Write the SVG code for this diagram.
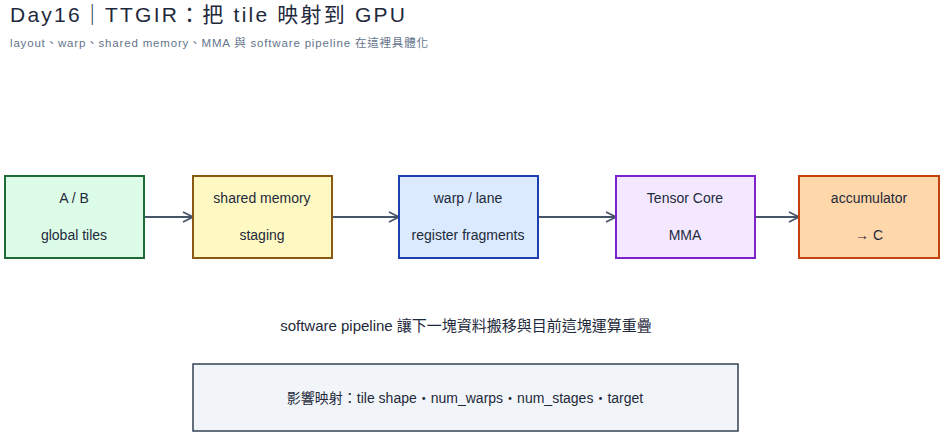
<svg xmlns="http://www.w3.org/2000/svg" width="942" height="434" viewBox="0 0 942 434">
<style>
text{font-family:"Liberation Sans","Noto Sans CJK TC",sans-serif;fill:#1e293b}
.n{font-size:14px;text-anchor:middle}
.b{stroke-width:2}
.c{stroke:#475569;stroke-width:1.8;fill:none}
</style>
<defs><marker id="a" markerWidth="12" markerHeight="12" refX="11" refY="6" orient="auto" markerUnits="userSpaceOnUse"><path d="M1,1 L11,6 L1,11" fill="none" stroke="#475569" stroke-width="1.8"/></marker></defs>
<rect width="942" height="434" fill="#fff"/>
<text x="10" y="22" font-size="21" textLength="395" lengthAdjust="spacing">Day16｜TTGIR：把 tile 映射到 GPU</text>
<text x="10" y="47" font-size="11.5" textLength="418" lengthAdjust="spacing" style="fill:#64748b">layout、warp、shared memory、MMA 與 software pipeline 在這裡具體化</text>
<g id="connectors">
<line class="c" x1="144" y1="217" x2="193" y2="217" marker-end="url(#a)"/>
<line class="c" x1="332" y1="217" x2="399" y2="217" marker-end="url(#a)"/>
<line class="c" x1="538" y1="217" x2="616" y2="217" marker-end="url(#a)"/>
<line class="c" x1="755" y1="217" x2="799" y2="217" marker-end="url(#a)"/>
</g>
<g id="n1"><rect class="b" x="5" y="176" width="139" height="82" fill="#dcfce7" stroke="#1e6b38"/><text class="n" x="74" y="203">A / B</text><text class="n" x="74" y="240">global tiles</text></g>
<g id="n2"><rect class="b" x="193" y="176" width="139" height="82" fill="#fef9c3" stroke="#8a5a14"/><text class="n" x="262" y="203">shared memory</text><text class="n" x="262" y="240">staging</text></g>
<g id="n3"><rect class="b" x="399" y="176" width="139" height="82" fill="#dbeafe" stroke="#1e40af"/><text class="n" x="468" y="203">warp / lane</text><text class="n" x="468" y="240">register fragments</text></g>
<g id="n4"><rect class="b" x="616" y="176" width="139" height="82" fill="#f3e8ff" stroke="#7e22ce"/><text class="n" x="685" y="203">Tensor Core</text><text class="n" x="685" y="240">MMA</text></g>
<g id="n5"><rect class="b" x="799" y="176" width="140" height="82" fill="#fed7aa" stroke="#c2410c"/><text class="n" x="869" y="203">accumulator</text><text class="n" x="869" y="240">→ C</text></g>
<text x="466" y="331" font-size="15" text-anchor="middle">software pipeline 讓下一塊資料搬移與目前這塊運算重疊</text>
<g id="n6"><rect x="193" y="364" width="545" height="67" fill="#f1f5f9" stroke="#334155" stroke-width="1.5"/><text class="n" x="465" y="403">影響映射：tile shape・num_warps・num_stages・target</text></g>
</svg>
